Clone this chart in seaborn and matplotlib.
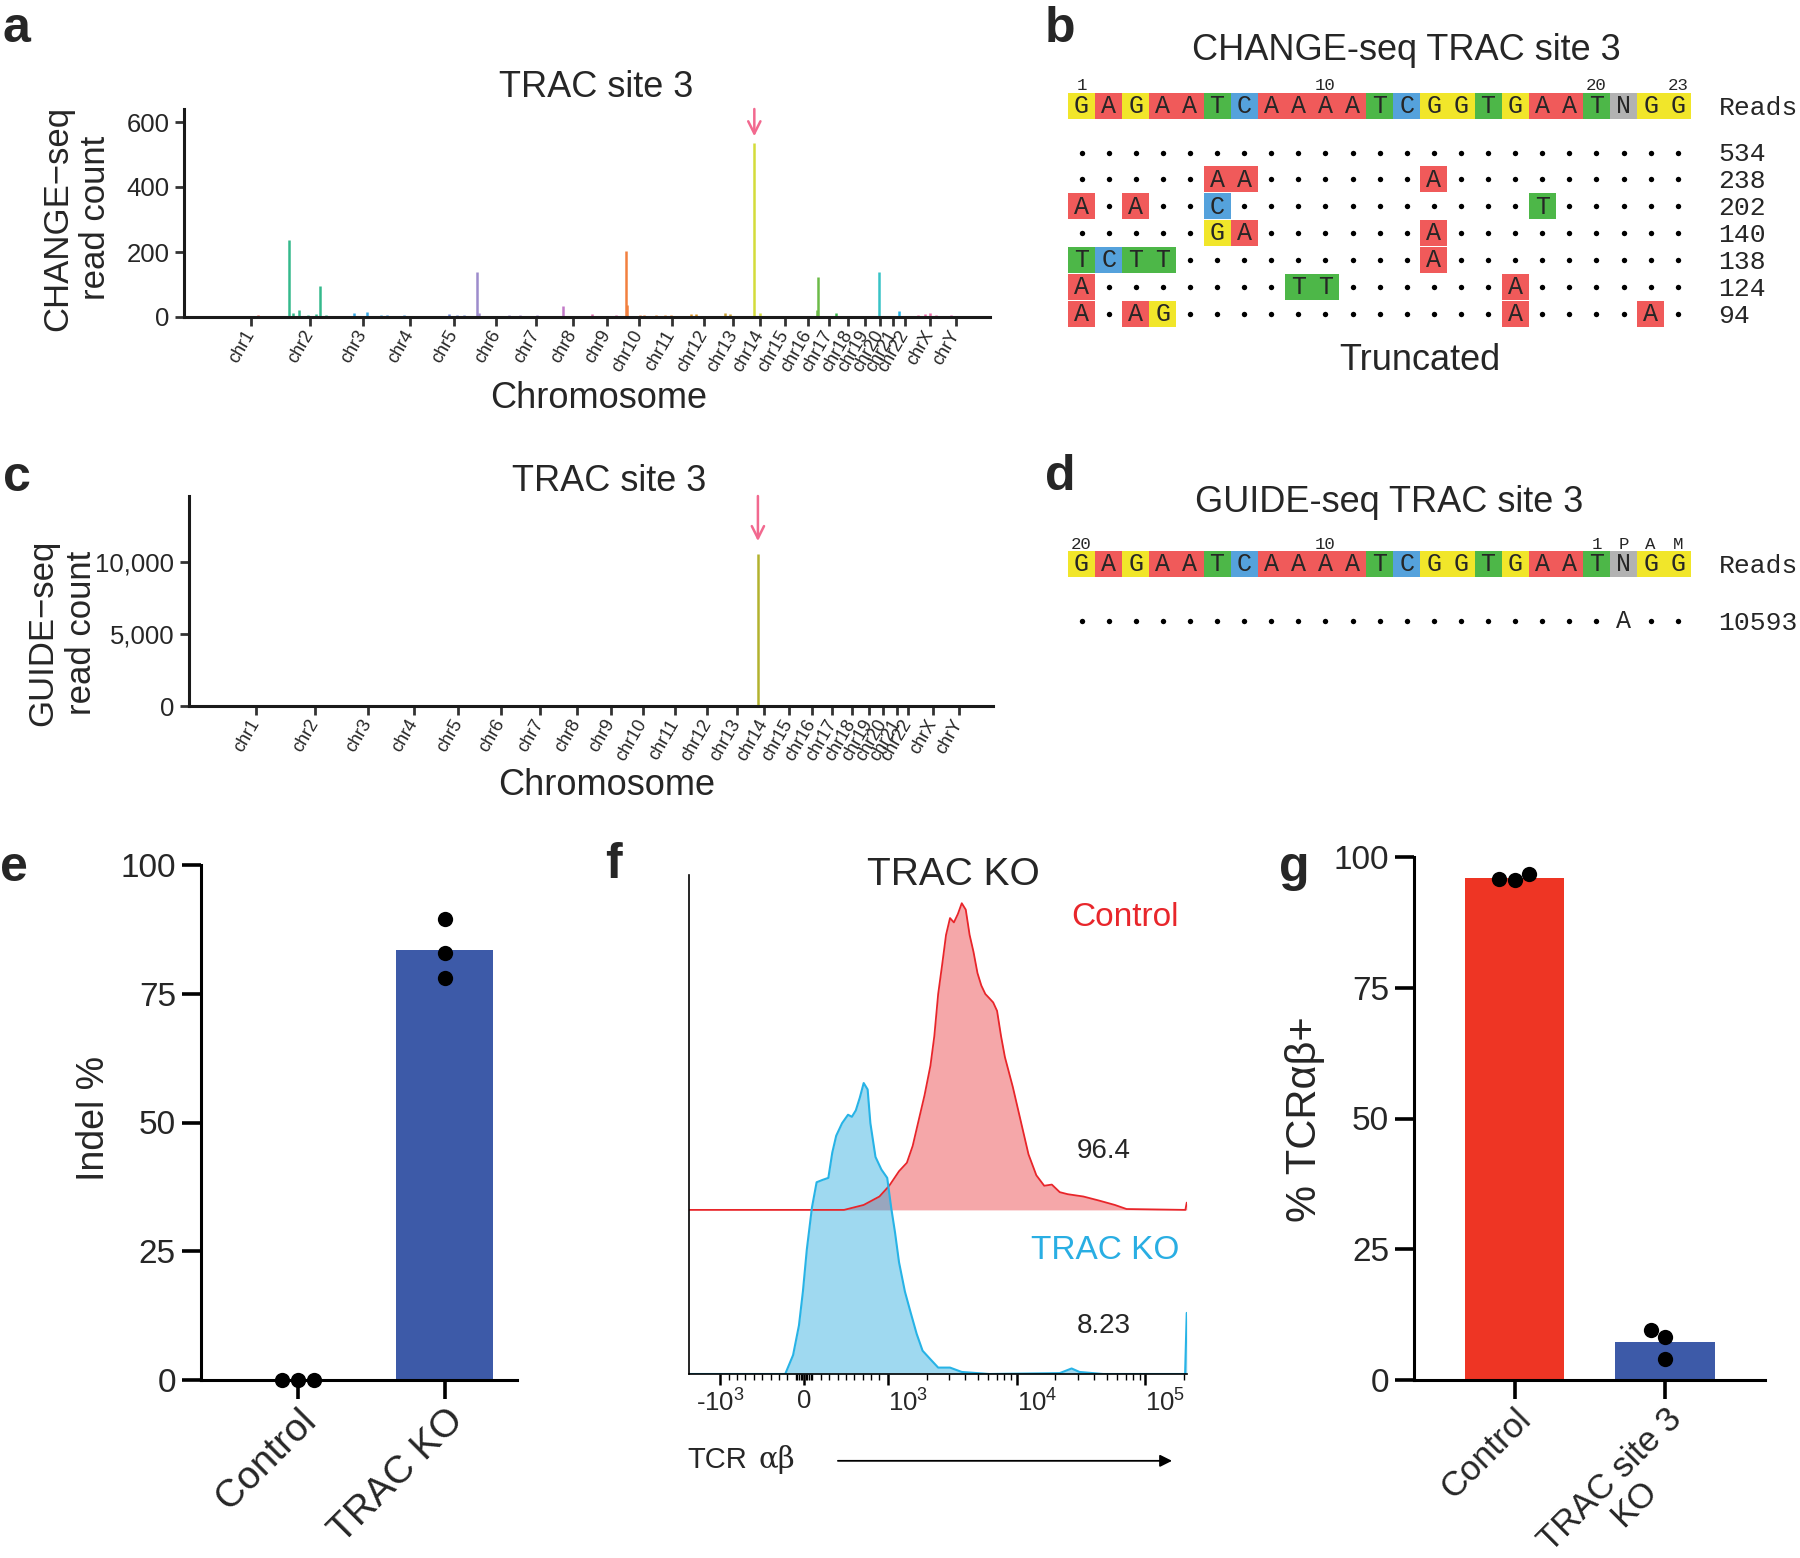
import numpy as np
import pandas as pd
import seaborn as sns
import matplotlib.pyplot as plt
from matplotlib.patches import Rectangle

sns.set_style("ticks")
plt.rcParams['font.family'] = ['Liberation Sans', 'DejaVu Sans']
plt.rcParams['mathtext.fontset'] = 'custom'
plt.rcParams['mathtext.rm'] = 'Liberation Sans'
plt.rcParams['mathtext.it'] = 'Liberation Sans:italic'
plt.rcParams['axes.unicode_minus'] = False

W, H = 1800, 1558
MONO = ['Liberation Mono', 'DejaVu Sans Mono']

# ---------------- data ----------------
chrom_names = ['chr1', 'chr2', 'chr3', 'chr4', 'chr5', 'chr6', 'chr7', 'chr8', 'chr9', 'chr10',
               'chr11', 'chr12', 'chr13', 'chr14', 'chr15', 'chr16', 'chr17', 'chr18', 'chr19',
               'chr20', 'chr21', 'chr22', 'chrX', 'chrY']
chrom_len_mb = [249, 242, 198, 190, 181, 171, 159, 145, 138, 134, 135, 133, 114, 107, 102,
                90, 83, 80, 59, 64, 47, 51, 156, 57]
chrom_colors = ['#e2604f', '#35b98c', '#38a8e6', '#3d90d8', '#6a80d0', '#9d8ccc', '#a58bd0',
                '#c27ac8', '#d96aaa', '#f2803f', '#ee8a35', '#dd9526', '#c8a034', '#d4dc3a',
                '#b8cc3a', '#6cbb48', '#3bb54a', '#2fb980', '#2dbda8', '#38c3c6', '#25b4e8',
                '#4aa0e0', '#ea6aa8', '#e060b0']

# CHANGE-seq sites (chromosome, position in Mb, read count)
change_chrom = ['chr1', 'chr1', 'chr1', 'chr1',
                'chr2', 'chr2', 'chr2', 'chr2', 'chr2', 'chr2', 'chr2',
                'chr3', 'chr3', 'chr3', 'chr4', 'chr4', 'chr4', 'chr5', 'chr5', 'chr5',
                'chr6', 'chr6', 'chr6', 'chr7', 'chr7', 'chr8', 'chr8', 'chr9', 'chr9',
                'chr10', 'chr10', 'chr10', 'chr10', 'chr11', 'chr11', 'chr11', 'chr11',
                'chr12', 'chr12', 'chr13', 'chr13', 'chr14', 'chr14', 'chr14',
                'chr16', 'chr16', 'chr17', 'chr20', 'chr20', 'chr21',
                'chrX', 'chrX', 'chrX', 'chrX', 'chrY']
change_pos_mb = [2, 30, 155, 212,
                 34, 48, 75, 113, 145, 163, 188,
                 62, 115, 175, 3, 70, 169, 67, 102, 130,
                 3, 14, 136, 14, 83, 34, 105, 8, 110,
                 13, 15, 69, 88, 2, 42, 67, 122,
                 15, 36, 24, 41, 30, 39, 53,
                 80, 88, 69, 20, 30, 46,
                 28, 56, 80, 105, 8]
change_reads = [3, 2, 5, 4,
                238, 13, 23, 6, 10, 94, 6,
                12, 15, 6, 6, 6, 3, 10, 6, 5,
                138, 12, 6, 6, 5, 33, 4, 9, 6,
                202, 38, 6, 6, 6, 6, 6, 3,
                10, 10, 12, 8, 534, 3, 12,
                21, 124, 13, 3, 140, 18,
                6, 9, 12, 6, 5]

guide_chrom = ['chr14']
guide_pos_mb = [30]
guide_reads = [10593]

# sequence alignments ('.' = matches target)
target_seq = "GAGAATCAAAATCGGTGAATNGG"
change_rows = [".......................",
               ".....AA......A.........",
               "A.A..C...........T.....",
               ".....GA......A.........",
               "TCTT.........A.........",
               "A.......TT......A......",
               "A.AG............A....A."]
change_row_reads = [534, 238, 202, 140, 138, 124, 94]
change_pos_labels = {1: '1', 10: '10', 20: '20', 23: '23'}

guide_rows = ["....................A.."]
guide_row_reads = [10593]
guide_pos_labels = {1: '20', 10: '10', 20: '1', 21: 'P', 22: 'A', 23: 'M'}

# indel %
indel_groups = ['Control', 'Control', 'Control', 'TRAC KO', 'TRAC KO', 'TRAC KO']
indel_values = [0, 0, 0, 89.5, 83.0, 78.0]

# % TCRab+
tcr_groups = ['Control'] * 3 + ['TRAC site 3\nKO'] * 3
tcr_values = [95.6, 96.7, 95.8, 8.3, 9.6, 4.0]

# flow histograms (TCR ab intensity, % of mode)
ko_x = [-1750, -225, -131, -61, -14, 33, 94, 150, 220, 290, 337, 384, 454, 525, 571, 618,
        665, 712, 759, 792, 853, 923, 993, 1062, 1138, 1222, 1358, 1507, 1675, 1862, 2138,
        2460, 3040, 3750, 6120, 21600, 26700, 30760, 46800, 203000, 209000]
ko_y = [0, 0, 6.5, 16.7, 28.3, 42.8, 57.2, 65.9, 66.7, 67.4, 76.1, 81.9, 86.2, 89.1, 88.4,
        90.6, 94.9, 100, 97.8, 86.2, 74.6, 70.3, 67.4, 57.2, 48.6, 38.4, 28.3, 21.0, 13.8,
        8.0, 5.1, 2.2, 2.2, 0.7, 0, 0.3, 1.9, 0.7, 0, 0, 21]
ctrl_x = [-1750, 478, 712, 900, 1026, 1222, 1406, 1560, 1734, 1928, 2143, 2296, 2460, 2642,
          2831, 3040, 3258, 3499, 3750, 4027, 4315, 4624, 4966, 5321, 5715, 6124, 6577,
          7047, 7568, 8110, 9333, 10740, 12360, 14220, 16370, 18760, 21600, 24880, 32960,
          43650, 57810, 71280, 204000, 209000]
ctrl_y = [0, 0, 1.7, 4.6, 8.3, 13.3, 16.2, 22.0, 30.7, 39.4, 49.6, 59.7, 74.2, 84.3, 94.5,
          100.3, 98.8, 101.7, 105.4, 103.2, 94.5, 88.7, 81.4, 77.1, 74.2, 72.8, 71.3, 68.4,
          59.7, 52.5, 42.3, 30.7, 19.1, 11.9, 8.3, 8.7, 6.1, 5.4, 4.6, 3.2, 1.7, 0.3, 0, 2.5]
ctrl_offset = 56.4
ctrl_pct = '96.4'
ko_pct = '8.23'


def box(x0, y0, x1, y1):
    return [x0 / W, 1 - y1 / H, (x1 - x0) / W, (y1 - y0) / H]


fig = plt.figure(figsize=(W / 100, H / 100), dpi=100)

chrom_start = np.concatenate([[0], np.cumsum(chrom_len_mb)[:-1]])
chrom_mid = chrom_start + np.array(chrom_len_mb) / 2


def manhattan(ax, chroms, pos, reads, colors, ymax, yticks, yticklabels, ylab,
              title_xy, xlab_xy, ylab_xy, tip_gap):
    idx = [chrom_names.index(c) for c in chroms]
    gx = chrom_start[idx] + np.array(pos)
    ax.vlines(gx, 0, reads, colors=colors, lw=1.8)
    ax.set_xlim(-155, 3200)
    ax.set_ylim(0, ymax)
    ax.set_xticks(chrom_mid)
    ax.set_xticklabels(chrom_names, rotation=60, ha='right', va='center',
                       rotation_mode='anchor', fontsize=13)
    ax.set_yticks(yticks)
    ax.set_yticklabels(yticklabels, fontsize=18.5)
    ax.tick_params(length=6.5, width=2, color='#333333', pad=4)
    for s in ['top', 'right']:
        ax.spines[s].set_visible(False)
    for s in ['left', 'bottom']:
        ax.spines[s].set_linewidth(2.2)
        ax.spines[s].set_color('#1a1a1a')
    ax.text(title_xy[0], title_xy[1], 'TRAC site 3', transform=ax.transAxes,
            ha='center', va='baseline', fontsize=26)
    ax.text(xlab_xy[0], xlab_xy[1], 'Chromosome', transform=ax.transAxes,
            ha='center', va='baseline', fontsize=26)
    ax.text(ylab_xy[0], ylab_xy[1], ylab, transform=ax.transAxes, rotation=90,
            ha='center', va='center', fontsize=25, linespacing=1.2)
    top = int(np.argmax(reads))
    ax.annotate('', xy=(gx[top], reads[top] + tip_gap), xytext=(gx[top], ymax),
                arrowprops=dict(arrowstyle='->', color='#f2698f', lw=1.8,
                                mutation_scale=22, shrinkA=0, shrinkB=0),
                annotation_clip=False)


# ---- a ----
ax_a = fig.add_axes(box(184, 109, 990, 317))
manhattan(ax_a, change_chrom, change_pos_mb, change_reads,
          [chrom_colors[chrom_names.index(c)] for c in change_chrom],
          640, [0, 200, 400, 600], ['0', '200', '400', '600'],
          'CHANGE\u2212seq\nread count', (0.511, 1.058), (0.515, -0.4375),
          (-0.133, 0.476), 22)

# ---- c ----
ax_c = fig.add_axes(box(189, 496, 993, 706))
manhattan(ax_c, guide_chrom, guide_pos_mb, guide_reads, ['#b3b22e'],
          14600, [0, 5000, 10000], ['0', '5,000', '10,000'],
          'GUIDE\u2212seq\nread count', (0.522, 1.024), (0.519, -0.424),
          (-0.158, 0.348), 870)

# ---- b / d sequence panels ----
base_colors = {'A': '#f05a5a', 'C': '#55a2dc', 'G': '#f1e62a', 'T': '#4db748', 'N': '#b2b2b2'}


def seq_panel(ax, title, title_xy, pos_labels, num_y, rows, row_reads, row_y0):
    ax.set_xlim(-0.849, 27.01)
    ax.axis('off')
    for k, b in enumerate(target_seq):
        ax.add_patch(Rectangle((k, -0.49), 1, 0.98, color=base_colors[b], lw=0))
        ax.text(k + 0.5, 0.27, b, ha='center', va='baseline', family=MONO, fontsize=18)
    for p, lab in pos_labels.items():
        ax.text(p - 0.5, num_y, lab, ha='center', va='baseline', family=MONO, fontsize=12.5)
    ax.text(24.0, 0.33, 'Reads', ha='left', va='baseline', family=MONO, fontsize=19)
    ax.text(title_xy[0], title_xy[1], title, ha='center', va='baseline', fontsize=26)
    for i, (row, n) in enumerate(zip(rows, row_reads)):
        y = row_y0 + i
        dots = [k + 0.5 for k, c in enumerate(row) if c == '.']
        ax.scatter(dots, [y] * len(dots), s=15, color='black', lw=0)
        for k, c in enumerate(row):
            if c == '.':
                continue
            if target_seq[k] != 'N':
                ax.add_patch(Rectangle((k, y - 0.485), 1, 0.97, color=base_colors[c], lw=0))
            ax.text(k + 0.5, y + 0.27, c, ha='center', va='baseline', family=MONO, fontsize=18)
        ax.text(24.0, y + 0.33, str(n), ha='left', va='baseline', family=MONO, fontsize=19)


ax_b = fig.add_axes(box(1045, 0, 1800, 390))
ax_b.set_ylim(10.56, -3.94)
seq_panel(ax_b, 'CHANGE-seq TRAC site 3', (12.47, -1.71), change_pos_labels, -0.6,
          change_rows, change_row_reads, 1.73)
ax_b.text(12.99, 9.81, 'Truncated', ha='center', va='baseline', fontsize=26)

ax_d = fig.add_axes(box(1045, 470, 1800, 650))
ax_d.set_ylim(3.20, -3.49)
seq_panel(ax_d, 'GUIDE-seq TRAC site 3', (11.85, -1.93), guide_pos_labels, -0.56,
          guide_rows, guide_row_reads, 2.12)


# ---- e / g bar + dots ----
def bar_dots(ax, groups, values, order, colors, xlim, ylab, ylab_xy, ylab_size, xlab_size):
    df = pd.DataFrame({'group': groups, 'value': values})
    sns.barplot(data=df, x='group', y='value', hue='group', order=order, hue_order=order,
                palette=colors, errorbar=None, width=0.66, linewidth=0, saturation=1,
                legend=False, ax=ax)
    sns.swarmplot(data=df, x='group', y='value', order=order, color='black', size=11,
                  ax=ax, clip_on=False, zorder=5)
    ax.set_xlim(*xlim)
    ax.set_ylim(0, 100)
    ax.set_yticks([0, 25, 50, 75, 100])
    ax.set_yticklabels(['0', '25', '50', '75', '100'], fontsize=24)
    ax.set_xlabel('')
    ax.set_ylabel('')
    ax.set_xticks(range(len(order)))
    ax.set_xticklabels(order, rotation=45, ha='right', rotation_mode='anchor',
                       fontsize=xlab_size, multialignment='center', linespacing=1.0)
    ax.tick_params(length=14, width=2.6, color='black')
    ax.tick_params(axis='y', pad=4)
    ax.tick_params(axis='x', pad=2)
    for s in ['top', 'right']:
        ax.spines[s].set_visible(False)
    for s in ['left', 'bottom']:
        ax.spines[s].set_linewidth(2.2)
        ax.spines[s].set_color('black')
    ax.text(ylab_xy[0], ylab_xy[1], ylab, transform=ax.transAxes, rotation=90,
            ha='center', va='center', fontsize=ylab_size)


ax_e = fig.add_axes(box(201, 865, 517, 1380))
bar_dots(ax_e, indel_groups, indel_values, ['Control', 'TRAC KO'], ['#3d5aa8', '#3d5aa8'],
         (-0.66, 1.49), 'Indel %', (-0.339, 0.507), 27, 28)

ax_g = fig.add_axes(box(1414, 857, 1765, 1380))
bar_dots(ax_g, tcr_groups, tcr_values, ['Control', 'TRAC site 3\nKO'],
         ['#ee3524', '#3d5aa8'], (-0.668, 1.664), '% TCR\u03b1\u03b2+', (-0.31, 0.498), 30, 25)

# ---- f flow overlay ----
ax_f = fig.add_axes(box(689, 875, 1187, 1374))
ax_f.set_xscale('symlog', linthresh=1000, linscale=0.585)
ax_f.set_xlim(-1750, 2.1e5)
ax_f.set_ylim(0, 171.5)
cy = ctrl_offset + np.array(ctrl_y)
ax_f.fill_between(ctrl_x, ctrl_offset, cy, color='#e8252a', alpha=0.4, lw=0)
ax_f.plot(ctrl_x, cy, color='#e8252a', lw=1.3)
ax_f.fill_between(ko_x, 0, ko_y, color='#1aa6dc', alpha=0.42, lw=0)
ax_f.plot(ko_x, ko_y, color='#27b3e6', lw=1.5)
ax_f.set_yticks([])
ax_f.set_xticks([-1000, 0, 1000, 1e4, 1e5])
ax_f.set_xticklabels(['-$10^3$', '0', '$10^3$', '$10^4$', '$10^5$'], fontsize=18.5)
for lab in ax_f.get_xticklabels():
    if lab.get_text() not in ('0', '-$10^3$'):
        lab.set_horizontalalignment('left')
minor = (list(range(-900, 0, 100)) + list(range(-80, 81, 20)) + list(range(100, 1000, 100))
         + list(range(2000, 10000, 1000)) + list(range(20000, 100000, 10000)) + [200000])
ax_f.set_xticks(minor, minor=True)
ax_f.tick_params(axis='x', which='major', length=8, width=1.8, color='black', pad=3)
ax_f.tick_params(axis='x', which='minor', length=4, width=1.0, color='black')
for s in ['top', 'right']:
    ax_f.spines[s].set_visible(False)
for s in ['left', 'bottom']:
    ax_f.spines[s].set_linewidth(1.2)
    ax_f.spines[s].set_color('black')
ax_f.text(0.53, 1.0, 'TRAC KO', transform=ax_f.transAxes, ha='center', va='center', fontsize=28)
ax_f.text(0.984, 0.914, 'Control', transform=ax_f.transAxes, ha='right', va='center',
          fontsize=24, color='#e8262b')
ax_f.text(0.984, 0.248, 'TRAC KO', transform=ax_f.transAxes, ha='right', va='center',
          fontsize=24, color='#29aee3')
ax_f.text(0.833, 0.447, ctrl_pct, transform=ax_f.transAxes, ha='center', va='center', fontsize=20)
ax_f.text(0.833, 0.096, ko_pct, transform=ax_f.transAxes, ha='center', va='center', fontsize=20)
ax_f.text(-0.004, -0.172, 'TCR', transform=ax_f.transAxes, ha='left', va='center', fontsize=21)
ax_f.text(0.139, -0.172, '\u03b1\u03b2', transform=ax_f.transAxes, ha='left', va='center',
          fontsize=21, family=['DejaVu Serif'])
ax_f.annotate('', xy=(0.970, -0.174), xytext=(0.299, -0.174), xycoords='axes fraction',
              arrowprops=dict(arrowstyle='-|>', color='black', lw=1.3, mutation_scale=18,
                              shrinkA=0, shrinkB=0), annotation_clip=False)

# ---- panel letters ----
for letter, (px, py) in {'a': (3, 42), 'b': (1045, 42), 'c': (3, 491), 'd': (1045, 490),
                         'e': (0, 881), 'f': (605, 878), 'g': (1279, 881)}.items():
    fig.text(px / W, 1 - py / H, letter, fontsize=36, fontweight='bold', va='baseline', ha='left')

fig.savefig('out.png', dpi=100)
